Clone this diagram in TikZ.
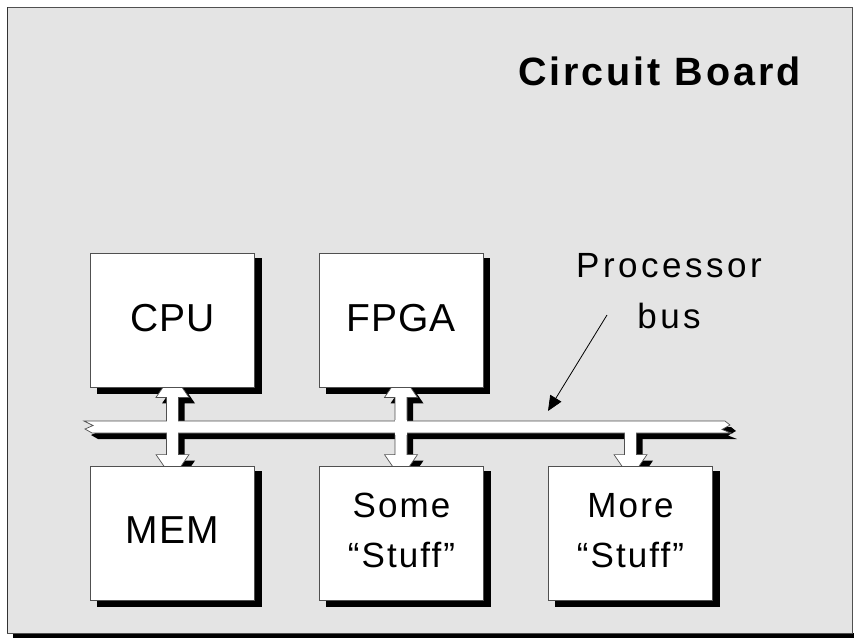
\documentclass[tikz,border=0pt]{standalone}
\usepackage{fontspec}
\setmainfont{Liberation Sans}
\newfontfamily\onelinefont[LetterSpace=3]{Liberation Sans}
\newfontfamily\twolinefont[LetterSpace=6]{Liberation Sans}
\newfontfamily\busfont[LetterSpace=10]{Liberation Sans}
\newfontfamily\titlefont[LetterSpace=7.5]{Liberation Sans}
\usetikzlibrary{arrows.meta,calc}
\definecolor{boardgray}{HTML}{E4E4E4}
\definecolor{edgegray}{HTML}{505050}
\pgfdeclarelayer{bglayer}
\pgfdeclarelayer{shadowlayer}
\pgfdeclarelayer{arrowlayer}
\pgfsetlayers{bglayer,shadowlayer,arrowlayer,main}
\newcommand{\dblarrow}[4]{%
  \path[#3] let \p1=(#1.south), \p2=(#2.north) in
  (\x1+#4,\y1+14pt-#4) -- (\x1+16.5pt+#4,\y1-10pt-#4) -- (\x1+6pt+#4,\y1-10pt-#4) -- (\x1+6pt+#4,\y2+11pt-#4)
  -- (\x1+16.5pt+#4,\y2+11pt-#4) -- (\x1+#4,\y2-13pt-#4) -- (\x1-16.5pt+#4,\y2+11pt-#4) -- (\x1-6pt+#4,\y2+11pt-#4)
  -- (\x1-6pt+#4,\y1-10pt-#4) -- (\x1-16.5pt+#4,\y1-10pt-#4) -- cycle;}
\newcommand{\busdownarrow}[4]{%
  \path[#3] let \p1=(#1), \p2=(#2.north) in
  (\x2+6pt+#4,\y1-#4) -- (\x2+6pt+#4,\y2+11pt-#4) -- (\x2+16.5pt+#4,\y2+11pt-#4) -- (\x2+#4,\y2-13pt-#4)
  -- (\x2-16.5pt+#4,\y2+11pt-#4) -- (\x2-6pt+#4,\y2+11pt-#4) -- (\x2-6pt+#4,\y1-#4) -- cycle;}
\newcommand{\busshape}{(84,421) -- (93,425.5) -- (85,429) -- (92,433) -- (731,433) -- (722,429.5) -- (730,425) -- (725,421) -- cycle}
\begin{document}
\begin{tikzpicture}[x=1pt,y=-1pt,
  box/.style={draw=edgegray, line width=0.8pt, fill=white, minimum width=164pt, minimum height=134pt,
    inner sep=0pt, align=center, text depth=5pt},
  onebox/.style={box, font=\onelinefont\fontsize{39}{50}\selectfont},
  twobox/.style={box, font=\twolinefont\fontsize{35}{50}\selectfont},
  blockfill/.style={fill=white, draw=edgegray, line width=0.7pt},
  blockshadow/.style={fill=black},
]
\useasboundingbox (0,0) rectangle (854,638);
% nodes (boxes)
\node[onebox] (cpu) at (172.5,320) {CPU};
\node[onebox] (fpga) at (401,320) {FPGA};
\node[onebox] (mem) at (172.5,533) {MEM};
\node[twobox] (some) at (401.5,533) {Some\\“Stuff”};
\node[twobox] (more) at (630.5,533) {More\\“Stuff”};
\coordinate (busdrop) at (630.5,427);
% board
\begin{pgfonlayer}{bglayer}
  \fill[black] (13,633) rectangle (854,638);
  \draw[fill=boardgray, draw=edgegray, line width=1pt] (7,7) rectangle (852,633);
  \draw[black!80, line width=1.2pt] (7.6,7) -- (7.6,633);
\end{pgfonlayer}
% box shadows
\begin{pgfonlayer}{shadowlayer}
  \foreach \b in {cpu,fpga,mem,some,more}
    \fill[black] ($(\b.north west)+(7,5)$) rectangle ($(\b.south east)+(7,7)$);
\end{pgfonlayer}
% bus and bus arrows
\begin{pgfonlayer}{arrowlayer}
  \begin{scope}[shift={(6,6)}]
    \fill[blockshadow] \busshape;
  \end{scope}
  \dblarrow{cpu}{mem}{blockshadow}{6pt}
  \dblarrow{fpga}{some}{blockshadow}{6pt}
  \busdownarrow{busdrop}{more}{blockshadow}{6pt}
  \dblarrow{cpu}{mem}{blockfill}{0pt}
  \dblarrow{fpga}{some}{blockfill}{0pt}
  \busdownarrow{busdrop}{more}{blockfill}{0pt}
  \path[blockfill] \busshape;
  \fill[white] (166.8,419.5) rectangle (178.2,434.5);
  \fill[white] (395.3,419.5) rectangle (406.7,434.5);
  \fill[white] (625.3,434.5) rectangle (635.7,432);
\end{pgfonlayer}
% labels
\node[anchor=base west, inner sep=0pt, font=\titlefont\bfseries\fontsize{39.5}{45}\selectfont] (title) at (518,85) {Circuit Board};
\node[anchor=north, inner sep=0pt, align=center, font=\busfont\fontsize{35}{51}\selectfont] (buslabel) at (669,253) {Processor\\bus};
\coordinate (ptrtail) at (607,315);
\coordinate (ptrhead) at (548,411);
\draw[line width=0.8pt, -{Triangle[length=15pt,width=13pt]}] (ptrtail) -- (ptrhead);
\end{tikzpicture}
\end{document}
